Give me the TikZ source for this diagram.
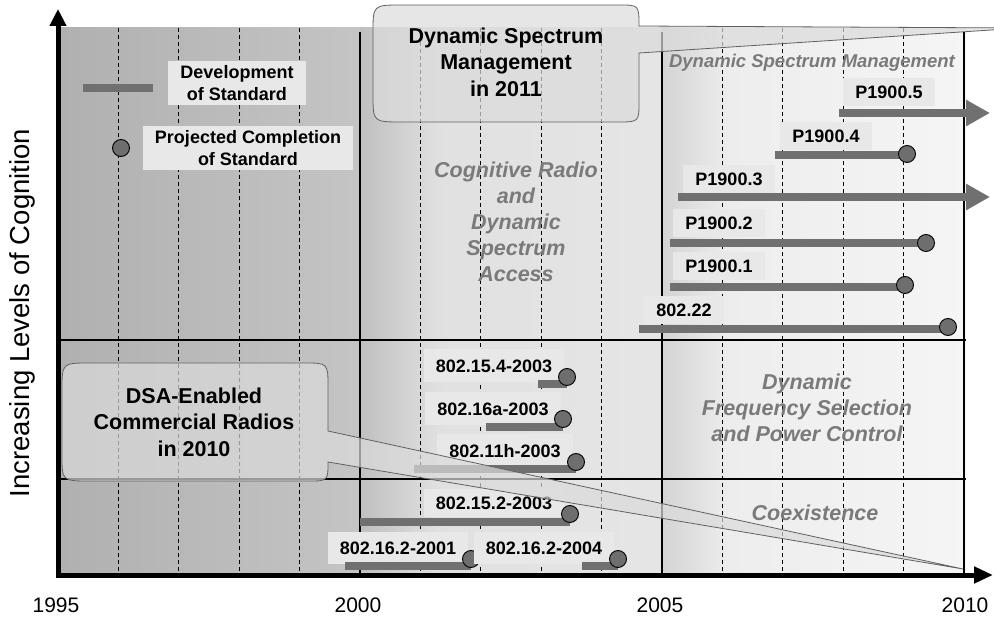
\documentclass[tikz,border=0pt]{standalone}
\usepackage{fontspec}
\setmainfont{Liberation Sans}
\usetikzlibrary{arrows.meta}

% shadings for the three five-year eras
\pgfdeclarehorizontalshading{eraA}{100bp}{color(0bp)=(black!31); color(25bp)=(black!31); color(75bp)=(black!23); color(100bp)=(black!23)}
\pgfdeclarehorizontalshading{eraB}{100bp}{color(0bp)=(black!25); color(25bp)=(black!25); color(38bp)=(black!12); color(75bp)=(black!10); color(100bp)=(black!10)}
\pgfdeclarehorizontalshading{eraC}{100bp}{color(0bp)=(black!17); color(25bp)=(black!17); color(36bp)=(black!7); color(75bp)=(black!4); color(100bp)=(black!4)}

\begin{document}
\begin{tikzpicture}[x=1pt,y=-1pt,
    gridline/.style={line width=1pt, dash pattern=on 4pt off 3pt},
    band/.style={line width=1.1pt},
    bound/.style={line width=2.5pt},
    axis/.style={line width=5pt, {Triangle[length=17pt,width=16pt]}-{Triangle[length=19pt,width=16pt]}},
    tag/.style={fill=black!9, inner xsep=12pt, inner ysep=4pt, minimum height=28pt, font=\bfseries\fontsize{18}{22}\selectfont},
    bar/.style={line width=7.5pt, draw=black!56},
    open bar/.style={bar, -{Triangle[length=24pt,width=25pt]}, color=black!56},
    dot/.style={circle, draw=black, line width=0.9pt, fill=black!57, minimum size=17pt, inner sep=0pt},
    era label/.style={text=black!52, align=center, font=\bfseries\itshape\fontsize{21.5}{26}\selectfont},
    callout/.style={draw=black!62, line width=0.8pt, fill=black!14, fill opacity=0.7},
    callout text/.style={align=center, font=\bfseries\fontsize{21.5}{26.5}\selectfont},
    year/.style={anchor=base, inner sep=0pt, font=\fontsize{21}{24}\selectfont}
]
    \useasboundingbox (0,0) rectangle (994,617);

    % Era backgrounds
    \shade[shading=eraA] (58,28) rectangle (360,575);
    \shade[shading=eraB] (360,28) rectangle (662,575);
    \shade[shading=eraC] (662,28) rectangle (966,575);

    % Yearly grid
    \foreach \k in {1,2,3,4,6,7,8,9,11,12,13,14}
        \draw[gridline] ({58+\k*60.4},28) -- ({58+\k*60.4},575);

    % Cognition bands
    \draw[band] (58,340) -- (966,340);
    \draw[band] (58,479) -- (966,479);
    \foreach \k in {5,10,15}
        \draw[bound] ({58+\k*60.4},32) -- ({58+\k*60.4},575);

    % Axes
    \draw[axis] (58,9) -- (58,575) -- (993,575);
    \node[year] (y1995) at (56,612) {1995};
    \node[year] (y2000) at (358,612) {2000};
    \node[year] (y2005) at (660,612) {2005};
    \node[year] (y2010) at (965,612) {2010};
    \node[rotate=90, font=\fontsize{27.5}{30}\selectfont] (ylab) at (22,313) {Increasing Levels of Cognition};

    % Era labels
    \node[era label] (crda) at (516,222) {Cognitive Radio\\and\\Dynamic\\Spectrum\\Access};
    \node[era label, font=\bfseries\itshape\fontsize{18.5}{22}\selectfont] (dsm) at (812,63) {Dynamic Spectrum Management};
    \node[era label] (dfs) at (807,408) {Dynamic\\Frequency Selection\\and Power Control};
    \node[era label] (coex) at (815,513) {Coexistence};

    % Legend
    \draw[bar] (83,88) -- (153,88);
    \node[tag, align=center] (t-dev) at (237,83) {Development\\of Standard};
    \node[dot] (e-leg) at (121,148) {};
    \node[tag, align=center] (t-proj) at (248,148) {Projected Completion\\of Standard};

    % Spectrum management standards
    \node[tag] (t-p5) at (889,92) {P1900.5};
    \draw[open bar] (839,113) -- (990,113);
    \node[tag] (t-p4) at (826,136) {P1900.4};
    \draw[bar] (775,155) -- (907,155);
    \node[dot] (e-p4) at (907,154) {};
    \node[tag] (t-p3) at (729,179) {P1900.3};
    \draw[open bar] (678,197) -- (990,197);
    \node[tag] (t-p2) at (719,223) {P1900.2};
    \draw[bar] (670,243) -- (926,243);
    \node[dot] (e-p2) at (926,243) {};
    \node[tag] (t-p1) at (719,266) {P1900.1};
    \draw[bar] (670,287) -- (905,287);
    \node[dot] (e-p1) at (905,285) {};
    \node[tag] (t-wran) at (684,310) {802.22};
    \draw[bar] (639,329) -- (948,329);
    \node[dot] (e-wran) at (948,327) {};

    % Frequency selection and power control
    \node[tag, minimum height=33pt] (t-zig) at (494,366) {802.15.4-2003};
    \draw[bar] (538,384) -- (567,384);
    \node[dot] (e-zig) at (567,377) {};
    \node[tag, minimum height=33pt] (t-16a) at (493,409) {802.16a-2003};
    \draw[bar] (486,427) -- (563,427);
    \node[dot] (e-16a) at (563,419) {};
    \node[tag, minimum height=33pt] (t-11h) at (505,451) {802.11h-2003};
    \draw[bar] (414,469) -- (576,469);
    \node[dot] (e-11h) at (576,462) {};

    % Coexistence
    \node[tag] (t-152) at (494,503) {802.15.2-2003};
    \draw[bar] (360,522) -- (570,522);
    \node[dot] (e-152) at (570,514) {};
    \node[tag, minimum height=31pt] (t-162a) at (398,548) {802.16.2-2001};
    \draw[bar] (345,566) -- (471,566);
    \node[dot] (e-162a) at (471,559) {};
    \node[tag, minimum height=31pt] (t-162b) at (544,548) {802.16.2-2004};
    \draw[bar] (582,566) -- (618,566);
    \node[dot] (e-162b) at (618,559) {};

    % Callouts
    \filldraw[callout] (639,53) -- (639,102) .. controls (639,122) .. (617,122) -- (402,122)
        .. controls (373,122) .. (373,95) -- (373,32) .. controls (373,5) .. (402,5) -- (619,5)
        .. controls (639,5) .. (639,26) -- (1022,28) -- cycle;
    \node[callout text] (dsm2011) at (506,62) {Dynamic Spectrum\\Management\\in 2011};

    \filldraw[callout] (328,462) .. controls (328,481) .. (308,481) -- (90,481)
        .. controls (62,481) .. (62,455) -- (62,390) .. controls (62,363) .. (90,363) -- (304,363)
        .. controls (328,363) .. (328,387) -- (328,431) -- (963,569) -- cycle;
    \node[callout text] (dsa2010) at (194,422) {DSA-Enabled\\Commercial Radios\\in 2010};
\end{tikzpicture}
\end{document}
